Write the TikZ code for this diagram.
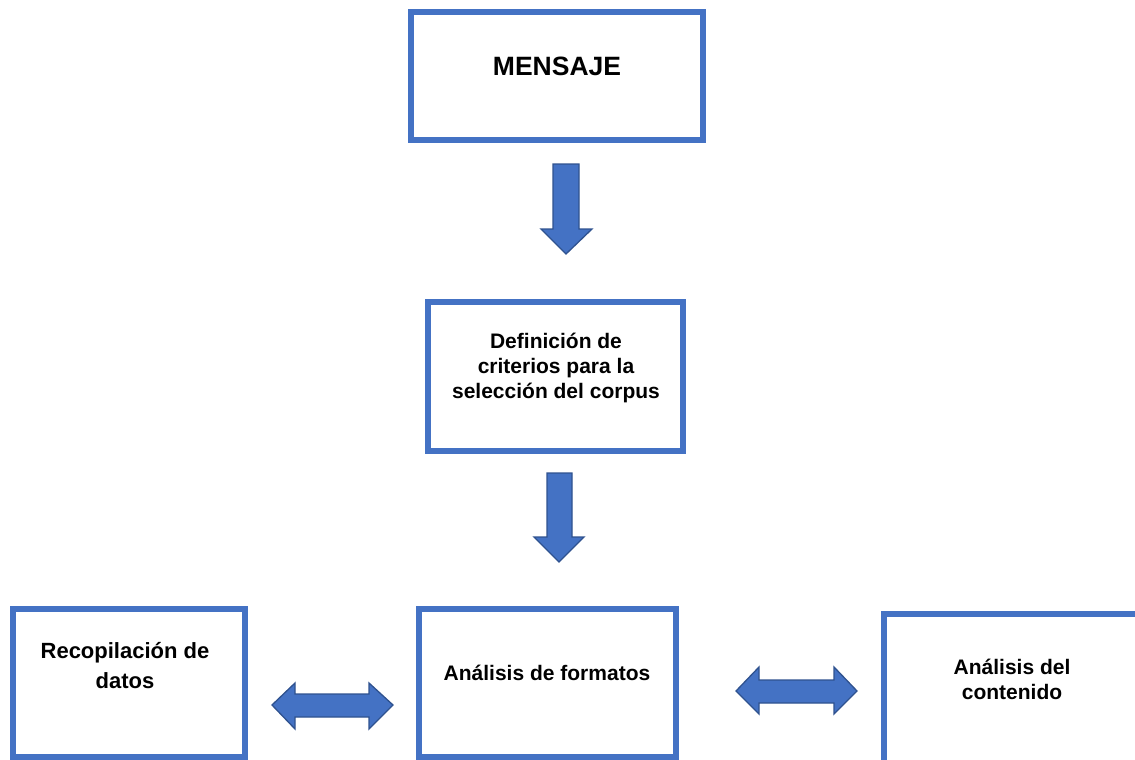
\documentclass[tikz,border=0pt]{standalone}
\usepackage{fontspec}
\setmainfont{Liberation Sans}
\definecolor{boxblue}{HTML}{4472C4}
\definecolor{arrowedge}{HTML}{2F528F}
\begin{document}
\begin{tikzpicture}[x=1pt,y=-1pt,
  box/.style={draw=boxblue,line width=6pt,inner sep=0pt,outer sep=0pt,fill=white},
  lbl/.style={align=center,inner sep=0pt,font=\bfseries\fontsize{21}{25}\selectfont},
  blockarrow/.style={fill=boxblue,draw=arrowedge,line width=1.3pt,line join=miter}]
\useasboundingbox (0,0) rectangle (1135,760);
\clip (0,0) rectangle (1135,760);
% boxes
\node[box,minimum width=292pt,minimum height=128pt] (b1) at (557,76) {};
\node[box,minimum width=255pt,minimum height=149pt] (b2) at (555.5,376.5) {};
\node[box,minimum width=232pt,minimum height=148pt] (b3) at (129,683) {};
\node[box,minimum width=257pt,minimum height=148pt] (b4) at (547.5,683) {};
\node[box,minimum width=276pt,minimum height=176pt] (b5) at (1022,702) {};
% texts
\node[lbl,font=\bfseries\fontsize{26.5}{30}\selectfont] (t1) at (557,66) {MENSAJE};
\node[lbl] (t2) at (556,368) {Definición de\\criterios para la\\selección del corpus};
\node[lbl,font=\bfseries\fontsize{22}{30}\selectfont] (t3) at (125,666) {Recopilación de\\datos};
\node[lbl] (t4) at (547,673) {Análisis de formatos};
\node[lbl] (t5) at (1012,679) {Análisis del\\contenido};
% block arrows
\draw[blockarrow] (553,164) -- (579,164) -- (579,229) -- (592,229) -- (566,254) -- (541,229) -- (553,229) -- cycle;
\draw[blockarrow] (547,473) -- (572,473) -- (572,537) -- (584,537) -- (559,562) -- (534,537) -- (547,537) -- cycle;
\draw[blockarrow] (272,705) -- (295,683) -- (295,694) -- (369,694) -- (369,683) -- (393,705) -- (369,729) -- (369,717) -- (295,717) -- (295,729) -- cycle;
\draw[blockarrow] (736,691) -- (759,667) -- (759,680) -- (834,680) -- (834,667) -- (857,691) -- (834,714) -- (834,703) -- (759,703) -- (759,714) -- cycle;
\end{tikzpicture}
\end{document}
